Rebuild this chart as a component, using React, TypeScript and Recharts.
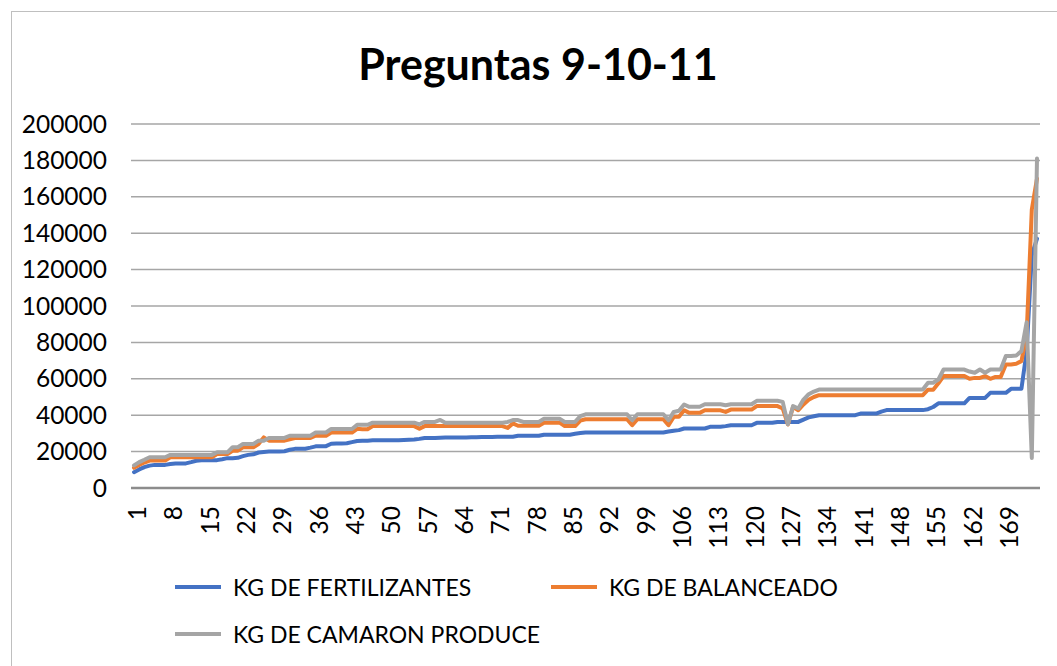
import { LineChart, Line, XAxis, YAxis, CartesianGrid, Legend } from "recharts";

// Encuestados 1..175 (eje de categorías)
const CATEGORIES = Array.from({ length: 175 }, (_, i) => String(i + 1));

const Y_TICKS = [0, 20000, 40000, 60000, 80000, 100000, 120000, 140000, 160000, 180000, 200000];

const FERTILIZANTES = [
  8700, 10200, 11500, 12300, 12700, 12700, 12700, 13200, 13500, 13500,
  13500, 14200, 15000, 15200, 15300, 15300, 15300, 15800, 16400, 16400,
  16600, 17500, 18200, 18500, 19500, 19800, 20000, 20000, 20000, 20200,
  21000, 21500, 21500, 21600, 22200, 22900, 22900, 23000, 24300, 24500,
  24500, 24600, 25200, 25800, 26000, 26000, 26200, 26200, 26200, 26200,
  26300, 26300, 26400, 26500, 26600, 27000, 27500, 27500, 27500, 27600,
  27700, 27700, 27800, 27800, 27800, 27900, 27900, 28000, 28000, 28000,
  28100, 28100, 28200, 28200, 28700, 28700, 28700, 28700, 28700, 29300,
  29300, 29300, 29300, 29300, 29300, 29800, 30200, 30500, 30500, 30500,
  30500, 30500, 30500, 30500, 30500, 30500, 30500, 30500, 30500, 30500,
  30500, 30500, 30500, 31000, 31500, 31800, 32700, 32700, 32700, 32700,
  32700, 33600, 33600, 33600, 34000, 34500, 34500, 34500, 34500, 34500,
  35800, 35800, 35800, 35800, 36300, 36300, 36300, 36300, 36300, 37600,
  38800, 39400, 40000, 40000, 40000, 40000, 40000, 40000, 40000, 40000,
  40900, 40900, 40900, 40900, 42000, 42800, 42800, 42800, 42800, 42800,
  42800, 42800, 42800, 43300, 44500, 46500, 46500, 46500, 46500, 46500,
  46500, 49500, 49500, 49500, 49500, 52300, 52300, 52300, 52300, 54500,
  54500, 54500, 75000, 128000, 137000,
];

const BALANCEADO = [
  11100, 12700, 14000, 15100, 15100, 15100, 15100, 16900, 16900, 16900,
  16900, 16900, 16900, 16900, 16900, 16900, 18700, 18700, 18700, 20500,
  20500, 22400, 22400, 22400, 24200, 27800, 26000, 26000, 26000, 26000,
  26800, 27500, 27500, 27500, 27500, 28700, 28700, 28700, 30500, 30500,
  30500, 30500, 30500, 32500, 32300, 32300, 34000, 34000, 34000, 34000,
  34000, 34000, 34000, 34000, 34000, 32500, 34000, 34000, 34000, 34000,
  34000, 34000, 34000, 34000, 34000, 34000, 34000, 34000, 34000, 34000,
  34000, 34000, 33000, 35500, 34200, 34200, 34200, 34200, 34200, 35900,
  35900, 35900, 35900, 34000, 34000, 34000, 37000, 37800, 37800, 37800,
  37800, 37800, 37800, 37800, 37800, 37800, 34500, 37800, 37800, 37800,
  37800, 37800, 37800, 34500, 39100, 39100, 42700, 41300, 41300, 41300,
  42700, 42700, 42700, 42700, 41800, 43100, 43100, 43100, 43100, 43100,
  45000, 45000, 45000, 45000, 45000, 43700, 34900, 44600, 42700, 45900,
  48500, 50000, 51000, 51000, 51000, 51000, 51000, 51000, 51000, 51000,
  51000, 51000, 51000, 51000, 51000, 51000, 51000, 51000, 51000, 51000,
  51000, 51000, 51000, 54000, 54000, 57500, 61500, 61500, 61500, 61500,
  61500, 60000, 60500, 60500, 61500, 60000, 61000, 61000, 67900, 67900,
  68300, 69700, 84000, 153000, 170000,
];

const CAMARON = [
  12400, 14200, 15500, 16900, 16900, 16900, 16900, 18200, 18200, 18200,
  18200, 18200, 18200, 18200, 18200, 18200, 19600, 19600, 19600, 22400,
  22400, 24200, 24200, 24200, 26000, 26000, 27500, 27500, 27500, 27500,
  28700, 28700, 28700, 28700, 28700, 30500, 30500, 30500, 32400, 32400,
  32400, 32400, 32400, 34700, 34700, 34700, 35900, 35900, 35900, 35900,
  35900, 35900, 35900, 35900, 35900, 35000, 36300, 36300, 36300, 37400,
  35900, 35900, 35900, 35900, 35900, 35900, 35900, 35900, 35900, 35900,
  35900, 35900, 36300, 37300, 37300, 36300, 36300, 36300, 36300, 38000,
  38000, 38000, 38000, 36300, 36300, 36300, 39500, 40500, 40500, 40500,
  40500, 40500, 40500, 40500, 40500, 40500, 37200, 40500, 40500, 40500,
  40500, 40500, 40500, 37200, 41800, 42400, 45900, 44600, 44600, 44600,
  46000, 46000, 46000, 46000, 45500, 46000, 46000, 46000, 46000, 46000,
  47900, 47900, 47900, 47900, 47900, 47300, 35000, 45000, 43700, 48600,
  51500, 53000, 54100, 54100, 54100, 54100, 54100, 54100, 54100, 54100,
  54100, 54100, 54100, 54100, 54100, 54100, 54100, 54100, 54100, 54100,
  54100, 54100, 54100, 57800, 57800, 59600, 65100, 65100, 65100, 65100,
  65100, 64000, 63300, 65100, 63300, 65100, 65100, 65100, 72500, 72500,
  72800, 75200, 91000, 16500, 181000,
];

const SERIES = [
  { key: "fert", name: "KG DE FERTILIZANTES", color: "#4472C4" },
  { key: "bal", name: "KG DE BALANCEADO", color: "#ED7D31" },
  { key: "cam", name: "KG DE CAMARON PRODUCE", color: "#A5A5A5" },
];

const data = CATEGORIES.map((c, i) => ({
  cat: c,
  fert: FERTILIZANTES[i],
  bal: BALANCEADO[i],
  cam: CAMARON[i],
}));

const FONT = "Lato, 'Open Sans', sans-serif";

// legend item slots (relative to legend box)
const LEGEND_SLOTS = [
  { left: 175, top: 27 },
  { left: 551, top: 27 },
  { left: 175, top: 74 },
];

function XTick(props: any) {
  const { x, y, payload } = props;
  return (
    <g transform={`translate(${x},${y + 18})`}>
      <text transform="rotate(-90)" textAnchor="end" dy={12} fontSize={24.5} fontFamily={FONT} fill="#000">
        {payload.value}
      </text>
    </g>
  );
}

function LegendBox(props: any) {
  const payload: any[] = props.payload || [];
  // keep the series order (Excel lists them in plotting order)
  const items = SERIES.map((s) => {
    const p = payload.find((e) => e.value === s.name);
    return { value: s.name, color: p ? p.color : s.color };
  });
  return (
    <div style={{ position: "relative", width: 1057, height: 110 }}>
      {items.map((it, i) => (
        <div
          key={it.value}
          style={{
            position: "absolute",
            left: LEGEND_SLOTS[i].left,
            top: LEGEND_SLOTS[i].top - 15,
            height: 30,
            display: "flex",
            alignItems: "center",
            whiteSpace: "nowrap",
          }}
        >
          <div style={{ width: 46, height: 4, background: it.color, marginRight: 12 }} />
          <span style={{ fontFamily: FONT, fontSize: 23, color: "#000" }}>{it.value}</span>
        </div>
      ))}
    </div>
  );
}

export default function App() {
  return (
    <div style={{ position: "fixed", left: 0, top: 0, width: 1057, height: 666, overflow: "hidden", background: "#fff" }}>
      <div
        style={{
          position: "absolute",
          left: 11,
          top: 11,
          width: 1100,
          height: 720,
          border: "1px solid #bfbfbf",
        }}
      />
      <div
        style={{
          position: "absolute",
          left: 0,
          top: 38,
          width: 1076,
          textAlign: "center",
          fontFamily: FONT,
          fontWeight: 700,
          fontSize: 43,
          lineHeight: 1.2,
          color: "#000",
        }}
      >
        Preguntas 9-10-11
      </div>
      <div style={{ position: "absolute", left: 0, top: 0 }}>
        <LineChart width={1057} height={666} data={data} margin={{ top: 124, right: 17, bottom: 8, left: 21 }}>
          <CartesianGrid vertical={false} stroke="#a6a6a6" strokeWidth={1.5} />
          <XAxis
            dataKey="cat"
            interval={6}
            height={60}
            tickLine={false}
            tickSize={0}
            tickMargin={0}
            padding={{ left: 3, right: 3 }}
            axisLine={{ stroke: "#8c8c8c", strokeWidth: 2.5 }}
            tick={<XTick />}
          />
          <YAxis
            width={110}
            domain={[0, 200000]}
            ticks={Y_TICKS}
            axisLine={false}
            tickLine={false}
            tickSize={0}
            tickMargin={24}
            tick={{ fontSize: 24.5, fontFamily: FONT, fill: "#000" }}
          />
          <Legend
            content={<LegendBox />}
            wrapperStyle={{ left: 0, top: 560, bottom: "auto", width: 1057, height: 110 }}
          />
          {SERIES.map((s) => (
            <Line
              key={s.key}
              type="linear"
              dataKey={s.key}
              name={s.name}
              stroke={s.color}
              strokeWidth={4}
              strokeLinejoin="round"
              strokeLinecap="round"
              dot={false}
              isAnimationActive={false}
            />
          ))}
        </LineChart>
      </div>
    </div>
  );
}
